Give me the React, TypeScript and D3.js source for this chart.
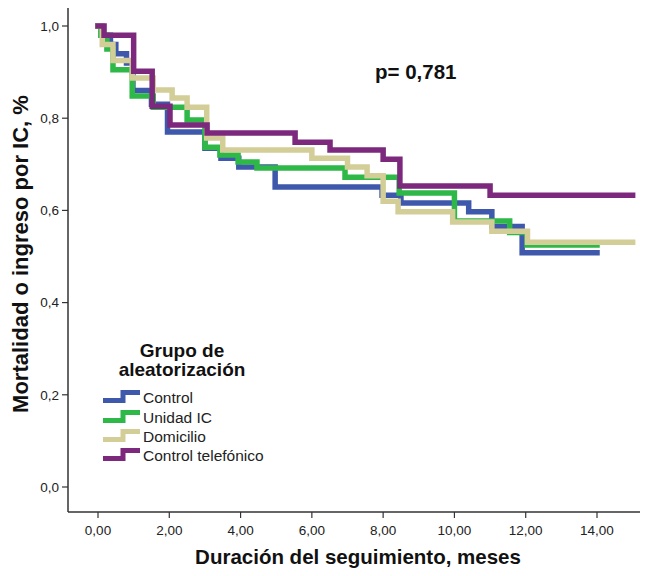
import React from 'react';
import * as d3 from 'd3';

const groups = ['Control', 'Unidad IC', 'Domicilio', 'Control telefónico'];
const groupColors = ['#3E58AC', '#2EB848', '#D3CE97', '#7C287D'];

const controlTimes = [0, 0.1, 0.35, 0.5, 0.8, 0.98, 1.5, 1.95, 3.0, 3.45, 3.95, 4.97, 7.97, 8.5, 10.4, 11.05, 11.9, 14.0];
const controlSurv = [1.0, 0.98, 0.96, 0.94, 0.92, 0.86, 0.83, 0.77, 0.735, 0.713, 0.694, 0.651, 0.633, 0.616, 0.597, 0.565, 0.508, 0.508];

const unidadTimes = [0, 0.08, 0.25, 0.42, 0.96, 1.55, 2.5, 3.0, 3.42, 3.93, 4.46, 6.93, 8.45, 10.0, 11.55, 12.04, 14.0];
const unidadSurv = [1.0, 0.98, 0.95, 0.905, 0.848, 0.824, 0.796, 0.737, 0.72, 0.705, 0.692, 0.672, 0.638, 0.577, 0.552, 0.525, 0.525];

const domicilioTimes = [0, 0.12, 0.42, 0.96, 1.55, 2.08, 2.5, 3.05, 3.5, 6.0, 7.0, 7.55, 8.0, 8.42, 9.95, 11.05, 12.05, 15.0];
const domicilioSurv = [1.0, 0.96, 0.925, 0.887, 0.861, 0.844, 0.824, 0.757, 0.731, 0.713, 0.694, 0.675, 0.62, 0.597, 0.575, 0.555, 0.531, 0.531];

const telefonoTimes = [0, 0.17, 1.0, 1.52, 2.02, 3.06, 5.53, 6.51, 8.0, 8.47, 11.0, 15.0];
const telefonoSurv = [1.0, 0.98, 0.902, 0.826, 0.785, 0.768, 0.748, 0.731, 0.711, 0.653, 0.633, 0.633];

const xTicks = [0, 2, 4, 6, 8, 10, 12, 14];
const yTicks = [0, 0.2, 0.4, 0.6, 0.8, 1.0];
const pValueText = 'p= 0,781';
const xTitle = 'Duración del seguimiento, meses';
const yTitle = 'Mortalidad o ingreso por IC, %';
const legendTitle = ['Grupo de', 'aleatorización'];

const FONT = '"Liberation Sans", Arial, sans-serif';

export default function App() {
  const W = 649;
  const H = 576;
  const x = d3.scaleLinear().domain([0, 14]).range([98, 597]);
  const y = d3.scaleLinear().domain([0, 1]).range([487, 26]);
  const axisX0 = 68;
  const axisX1 = 640;
  const axisY0 = 8;
  const axisY1 = 512;

  const series = [
    { t: controlTimes, s: controlSurv },
    { t: unidadTimes, s: unidadSurv },
    { t: domicilioTimes, s: domicilioSurv },
    { t: telefonoTimes, s: telefonoSurv },
  ];

  const line = d3
    .line<[number, number]>()
    .x((d) => x(d[0]))
    .y((d) => y(d[1]))
    .curve(d3.curveStepAfter);

  const fmtX = (v: number) => v.toFixed(2).replace('.', ',');
  const fmtY = (v: number) => v.toFixed(1).replace('.', ',');

  const legendX = 103;
  const legendRows = [398, 418, 437, 456];

  return (
    <svg
      width={W}
      height={H}
      style={{ position: 'absolute', left: 0, top: 0, background: '#fff' }}
      fontFamily={FONT}
    >
      <rect x={0} y={0} width={W} height={H} fill="#fff" />
      {/* axes */}
      <line x1={axisX0} y1={axisY0} x2={axisX0} y2={axisY1} stroke="#333" strokeWidth={1.5} />
      <line x1={axisX0} y1={axisY1} x2={axisX1} y2={axisY1} stroke="#333" strokeWidth={1.5} />
      {yTicks.map((v) => (
        <g key={'y' + v}>
          <line x1={axisX0 - 6} x2={axisX0} y1={y(v)} y2={y(v)} stroke="#333" strokeWidth={1.2} />
          <text x={axisX0 - 9} y={y(v)} dy="0.35em" textAnchor="end" fontSize={13.5} fill="#222">
            {fmtY(v)}
          </text>
        </g>
      ))}
      {xTicks.map((v) => (
        <g key={'x' + v}>
          <line x1={x(v)} x2={x(v)} y1={axisY1} y2={axisY1 + 6} stroke="#333" strokeWidth={1.2} />
          <text x={x(v)} y={axisY1 + 18} dy="0.35em" textAnchor="middle" fontSize={13.5} fill="#222">
            {fmtX(v)}
          </text>
        </g>
      ))}
      <text x={358} y={564} textAnchor="middle" fontSize={20.5} fontWeight="bold" fill="#111">
        {xTitle}
      </text>
      <text
        transform={`translate(28,254) rotate(-90)`}
        textAnchor="middle"
        fontSize={22}
        fontWeight="bold"
        fill="#111"
      >
        {yTitle}
      </text>

      {/* curves */}
      {series.map((sr, i) => {
        const pts: [number, number][] = sr.t.map((t, k) => [t, sr.s[k]]);
        return (
          <path
            key={groups[i]}
            d={line(pts) || ''}
            fill="none"
            stroke={groupColors[i]}
            strokeWidth={5.5}
            strokeLinejoin="miter"
            strokeLinecap="square"
          />
        );
      })}

      <text x={375} y={79} fontSize={20.5} fontWeight="bold" fill="#111">
        {pValueText}
      </text>

      {/* legend */}
      <text x={182} y={357} textAnchor="middle" fontSize={19} fontWeight="bold" fill="#111">
        {legendTitle[0]}
      </text>
      <text x={182} y={376} textAnchor="middle" fontSize={19} fontWeight="bold" fill="#111">
        {legendTitle[1]}
      </text>
      {groups.map((g, i) => {
        const cy = legendRows[i] - 1.5;
        const d = `M${legendX},${cy + 4} H${legendX + 20} V${cy - 4} H${legendX + 37}`;
        return (
          <g key={'leg' + g}>
            <path d={d} fill="none" stroke={groupColors[i]} strokeWidth={5} strokeLinejoin="miter" />
            <text x={legendX + 40} y={legendRows[i]} dy="0.35em" fontSize={15.5} fill="#222">
              {g}
            </text>
          </g>
        );
      })}
    </svg>
  );
}
